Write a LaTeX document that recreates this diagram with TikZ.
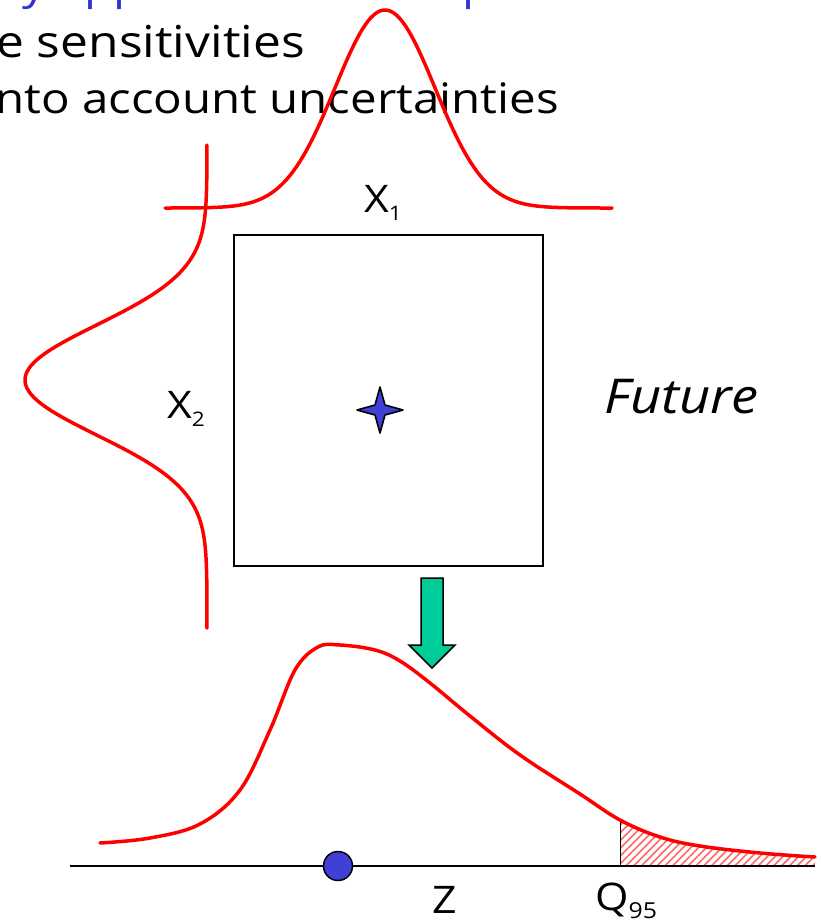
\documentclass[tikz,border=0pt]{standalone}
\usepackage{fontspec}
\setmainfont{Open Sans}[FakeStretch=1.13]
\usetikzlibrary{patterns.meta}
\definecolor{titleblue}{RGB}{51,51,204}
\definecolor{starblue}{RGB}{64,64,214}
\definecolor{arrgreen}{RGB}{0,204,153}
\begin{document}
\begin{tikzpicture}[x=1pt,y=-1pt,
  curve/.style={draw=red, line width=3.5pt, line join=round, line cap=round},
  txt/.style={inner sep=0pt, font=\fontsize{42}{50}\selectfont},
  lbl/.style={inner sep=0pt, font=\fontsize{38}{44}\selectfont}]
\useasboundingbox (0,0) rectangle (820,924);
\begin{scope}
\clip (0,0) rectangle (820,924);
% header text (cut off by the frame)
\node[txt, anchor=base west, text=titleblue] (title) at (22,-1) {\llap{Probabilit}y approach: first step to};
\node[txt, anchor=base west, font=\fontsize{44}{50}\selectfont] (line1) at (-4,57) {e sensitivities};
\node[txt, anchor=base west] (line2) at (-5,113) {nto account uncertainties};

% hatched tail
\begin{scope}
\clip (620,0) rectangle (815,866);
\fill[pattern={Lines[angle=45,distance=5.5pt,line width=1.6pt]}, pattern color=red!60]
  plot[smooth, tension=0.6] coordinates {(100,843) (150,838) (200,824) (240,790) (270,730) (295,670) (318,647) (340,645) (375,650) (400,661) (430,683) (470,716) (520,755) (580,794) (620,820) (660,837) (700,846) (760,853) (815,857)}
  -- (815,866) -- (100,866) -- cycle;
\end{scope}
\end{scope}

% input box
\node[draw, line width=1.3pt, minimum width=309pt, minimum height=331pt, inner sep=0pt] (box) at (388.5,400.5) {};

% top distribution (X1)
\draw[curve] plot[domain=165:612, samples=150] (\x, {208 - 198*exp(-((\x-385)/50)^2/2)});
% left distribution (X2)
\draw[curve] plot[domain=145:628, samples=150] ({207 - 182*exp(-((\x-380)/55)^2/2)}, \x);

% labels
\node[lbl, anchor=base west] (x1) at (364,212) {X\raisebox{-0.22em}{\fontsize{20}{24}\selectfont 1}};
\node[lbl, anchor=base west] (x2) at (167,418) {X\raisebox{-0.22em}{\fontsize{20}{24}\selectfont 2}};
\node[inner sep=0pt, anchor=base west, font=\fontsize{48}{56}\selectfont\itshape] (future) at (604,413) {Future};

% star (nominal point)
\coordinate (star) at (380,410);
\filldraw[fill=starblue, draw=black, line width=1.6pt, line join=round]
  (star) ++(0,-23) -- ++(5,18) -- ++(18,5) -- ++(-18,5) -- ++(-5,18) -- ++(-5,-18) -- ++(-18,-5) -- ++(18,-5) -- cycle;

% green arrow
\filldraw[fill=arrgreen, draw=black, line width=1.5pt, line join=miter]
  (421,578) -- (443,578) -- (443,645) -- (455,645) -- (432,668) -- (409,645) -- (421,645) -- cycle;

% output axis and distribution
\draw[line width=1.5pt] (70,866) -- (815,866);
\draw[line width=0.8pt] (620,820) -- (620,866);
\draw[curve] plot[smooth, tension=0.6] coordinates {(100,843) (150,838) (200,824) (240,790) (270,730) (295,670) (318,647) (340,645) (375,650) (400,661) (430,683) (470,716) (520,755) (580,794) (620,820) (660,837) (700,846) (760,853) (815,857)};

\node[circle, fill=starblue, draw=black, line width=1.5pt, minimum size=29pt, inner sep=0pt] (mean) at (338,866) {};

\node[lbl, anchor=base west] (z) at (432,913) {Z};
\node[lbl, anchor=base west] (q95) at (595,910) {Q\raisebox{-0.22em}{\fontsize{22}{26}\selectfont 95}};
\end{tikzpicture}
\end{document}
